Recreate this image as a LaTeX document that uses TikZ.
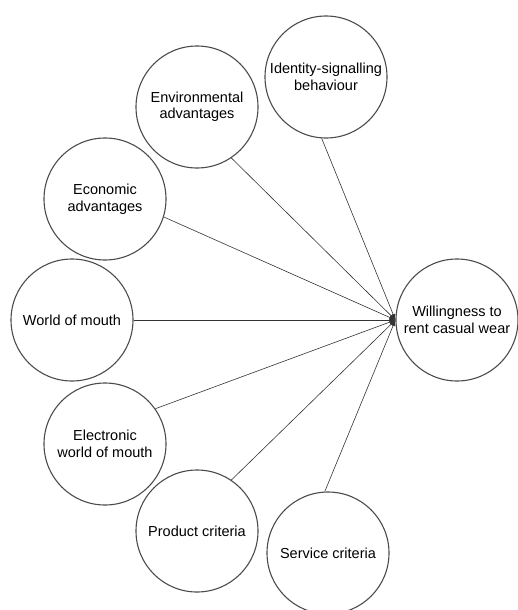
\documentclass[tikz,border=0pt]{standalone}
\usepackage{fontspec}
\setmainfont{Liberation Sans}
\usetikzlibrary{arrows.meta}

\begin{document}
\begin{tikzpicture}[
  x=1pt, y=-1pt,
  factor/.style={circle, draw=black!70, line width=1.1pt, minimum size=122pt,
    inner sep=0pt, align=center, font=\fontsize{14.5}{16.5}\selectfont},
  arrow/.style={-{Latex[length=6pt,width=4.5pt]}, line width=0.6pt, draw=black!80}
]
\useasboundingbox (0,0) rectangle (518,610);
\node[factor] (identity) at (326,77) {Identity-signalling\\behaviour};
\node[factor] (environ) at (197,107) {Environmental\\advantages};
\node[factor] (economic) at (105,199) {Economic\\advantages};
\node[factor] (wom) at (72,320) {World of mouth};
\node[factor] (ewom) at (105,444) {Electronic\\world of mouth};
\node[factor] (product) at (197,531) {Product criteria};
\node[factor] (service) at (328,553) {Service criteria};
\node[factor] (rent) at (457,320) {Willingness to\\rent casual wear};
\draw[arrow] (identity.266) -- (rent.west);
\draw[arrow] (environ.304) -- (rent.west);
\draw[arrow] (economic.343) -- (rent.west);
\draw[arrow] (wom.east) -- (rent.west);
\draw[arrow] (ewom.35) -- (rent.west);
\draw[arrow] (product.56) -- (rent.west);
\draw[arrow] (service.93) -- (rent.west);
\end{tikzpicture}
\end{document}
